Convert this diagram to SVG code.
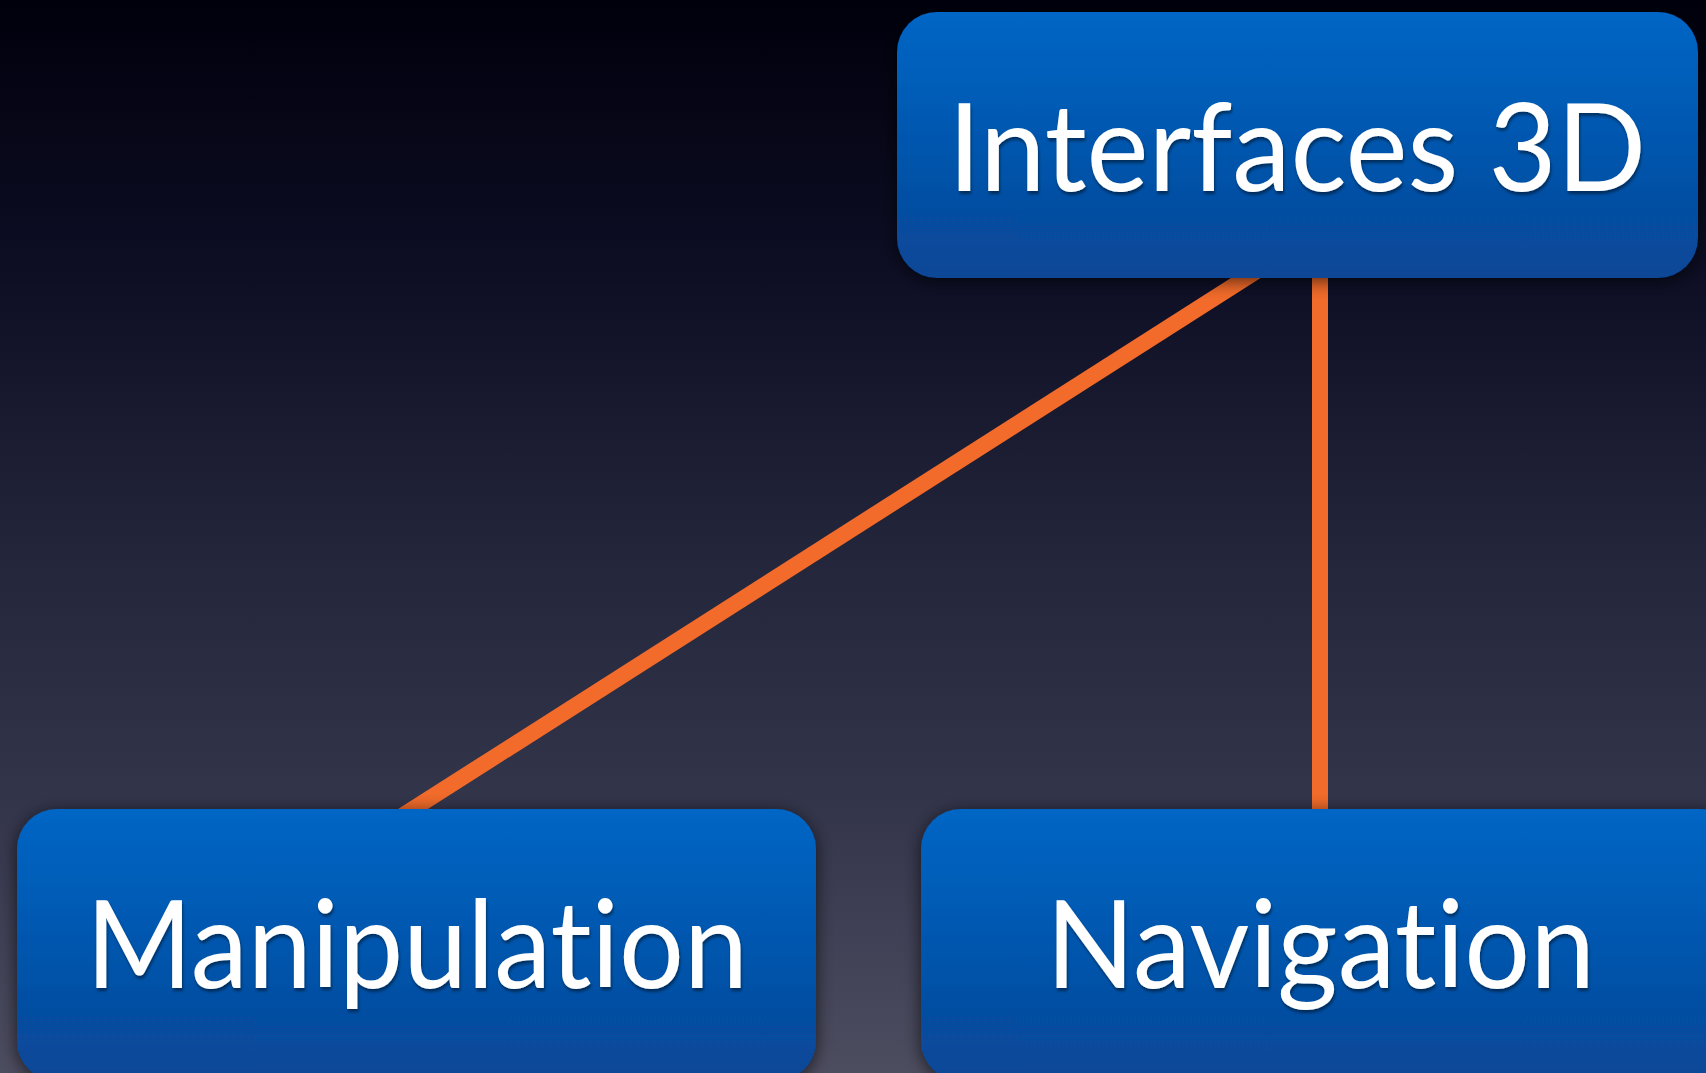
<svg xmlns="http://www.w3.org/2000/svg" width="1706" height="1073" viewBox="0 0 1706 1073">
  <defs>
    <linearGradient id="bg" x1="0" y1="0" x2="0" y2="1">
      <stop offset="0" stop-color="#00000c"/>
      <stop offset="0.25" stop-color="#0d0e24"/>
      <stop offset="0.5" stop-color="#222439"/>
      <stop offset="0.75" stop-color="#33354b"/>
      <stop offset="1" stop-color="#4d4d60"/>
    </linearGradient>
    <linearGradient id="boxFill" x1="0" y1="0" x2="0" y2="1">
      <stop offset="0" stop-color="#0066c5"/>
      <stop offset="1" stop-color="#084696"/>
    </linearGradient>
    <filter id="boxShadow" x="-10%" y="-15%" width="120%" height="130%">
      <feGaussianBlur in="SourceAlpha" stdDeviation="9"/>
      <feOffset dx="0" dy="3" result="b"/>
      <feComponentTransfer><feFuncA type="linear" slope="0.65"/></feComponentTransfer>
      <feMerge><feMergeNode/><feMergeNode in="SourceGraphic"/></feMerge>
    </filter>
    <filter id="textShadow" x="-5%" y="-20%" width="110%" height="140%">
      <feGaussianBlur in="SourceAlpha" stdDeviation="1.5"/>
      <feOffset dx="1" dy="3"/>
      <feComponentTransfer><feFuncA type="linear" slope="0.45"/></feComponentTransfer>
      <feMerge><feMergeNode/><feMergeNode in="SourceGraphic"/></feMerge>
    </filter>
  </defs>
  <style>
    .box { fill: url(#boxFill); filter: url(#boxShadow); }
    .label { fill: #ffffff; font-family: Lato, "Liberation Sans", sans-serif; font-size: 123px; font-variant-ligatures: none; font-feature-settings: "liga" 0; filter: url(#textShadow); }
    .edge { stroke: #f26b2a; stroke-width: 16; fill: none; }
  </style>

  <rect width="1706" height="1073" fill="url(#bg)"/>

  <!-- connector ends run under the boxes, which are painted on top -->
  <g id="connectors">
    <line class="edge" x1="1274" y1="260" x2="380" y2="830"/>
    <line class="edge" x1="1320" y1="260" x2="1320" y2="830"/>
  </g>

  <g id="node-interfaces">
    <rect class="box" x="897" y="12" width="801" height="266" rx="40" ry="40"/>
    <text class="label" x="948" y="191" textLength="698" lengthAdjust="spacingAndGlyphs">Interfaces 3D</text>
  </g>

  <g id="node-manipulation">
    <rect class="box" x="17" y="809" width="799" height="272" rx="40" ry="40"/>
    <text class="label" x="86" y="988" textLength="662" lengthAdjust="spacingAndGlyphs">Manipulation</text>
  </g>

  <g id="node-navigation">
    <rect class="box" x="921" y="809" width="820" height="272" rx="40" ry="40"/>
    <text class="label" x="1046" y="988" textLength="549" lengthAdjust="spacingAndGlyphs">Navigation</text>
  </g>
</svg>
